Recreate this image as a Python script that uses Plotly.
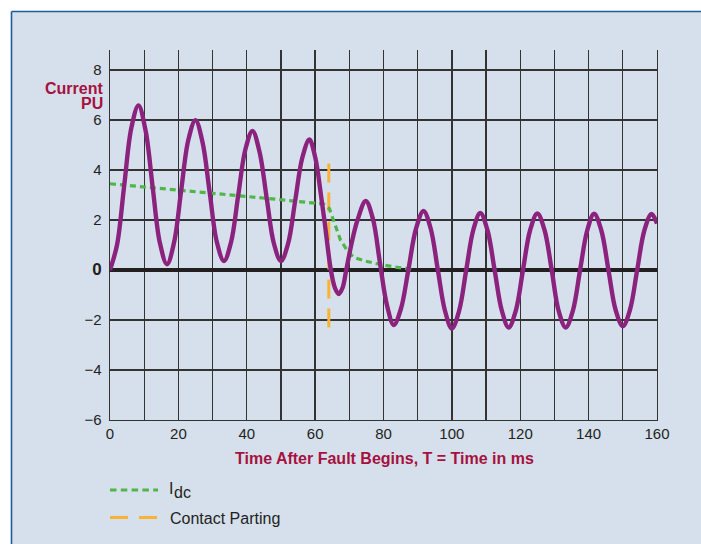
import plotly.graph_objects as go

# ---------------- data ----------------
time_ms = [0.0, 2.08, 4.17, 6.25, 8.33, 10.42, 12.5, 14.58, 16.67, 18.75,
           20.83, 22.92, 25.0, 27.08, 29.17, 31.25, 33.33, 35.42, 37.5, 39.58,
           41.67, 43.75, 45.83, 47.92, 50.0, 52.08, 54.17, 56.25, 58.33, 60.0,
           60.7, 61.7, 62.7, 64.6, 65.8, 66.9, 68.0, 69.1, 70.8, 72.4,
           74.8, 76.9, 79.0, 81.0, 83.0, 85.1, 87.3, 89.5, 91.7, 93.8,
           95.9, 98.0, 100.0, 102.1, 104.2, 106.3, 108.3, 110.4, 112.5, 114.6,
           116.6, 118.7, 120.8, 122.9, 125.0, 127.1, 129.2, 131.2, 133.3, 135.4,
           137.5, 139.6, 141.6, 143.7, 145.8, 147.9, 150.0, 152.1, 154.2, 156.3,
           158.4, 160.0]
current_pu = [0.0, 1.02, 3.40, 5.69, 6.58, 5.57, 3.29, 1.09, 0.23, 1.11,
              3.19, 5.21, 5.99, 5.10, 3.09, 1.12, 0.36, 1.12, 2.98, 4.81,
              5.56, 4.72, 2.88, 1.07, 0.36, 1.05, 2.77, 4.49, 5.22, 4.52,
              4.0, 3.0, 2.0, 0.0, -0.72, -0.96, -0.72, 0.0, 1.15, 2.0,
              2.76, 2.05, 0.25, -1.4, -2.2, -1.55, 0.03, 1.65, 2.36, 1.66,
              0.0, -1.64, -2.34, -1.64, 0.0, 1.62, 2.28, 1.6, 0.0, -1.62,
              -2.3, -1.62, 0.0, 1.6, 2.26, 1.6, 0.0, -1.62, -2.3, -1.62,
              0.0, 1.59, 2.25, 1.59, 0.0, -1.6, -2.25, -1.59, 0.0, 1.58,
              2.24, 1.86]

idc_time = [0, 10, 20, 30, 40, 50, 55, 60, 62.5, 64.2, 65.9, 67.4, 69.3,
            71.3, 74.6, 78.4, 83.3, 88.7]
idc_pu = [3.45, 3.33, 3.2, 3.07, 2.94, 2.81, 2.74, 2.68, 2.64, 2.45, 1.75,
          1.2, 0.8, 0.5, 0.36, 0.24, 0.12, 0.02]

parting_time = [64.0, 64.0]
parting_pu = [4.26, -2.33]

x_ticks = [0, 20, 40, 60, 80, 100, 120, 140, 160]
y_ticks = [-6, -4, -2, 0, 2, 4, 6, 8]
y_tick_text = ["\u22126", "\u22124", "\u22122",
               "<b><span style='font-size:17px'>0</span></b>",
               "2", "4", "6", "8"]

x_title = "Time After Fault Begins, T = Time in ms"
y_title_lines = ["Current", "PU"]
idc_label = ["I", "dc"]
parting_label = "Contact Parting"

# ---------------- styles ----------------
W, H = 701, 544
ML, MR, MT, MB = 110, 44, 50, 124
PW, PH = W - ML - MR, H - MT - MB

PANEL = "#d6e0ec"
BORDER = "#1f5d99"
GRID = "#333333"
TEXT = "#231f20"
CRIMSON = "#a6113f"
PURPLE = "#8b237e"
GREEN = "#4fb648"
ORANGE = "#f9b233"
FONT = "Liberation Sans, Arial, sans-serif"


def px(xp):
    return (xp - ML) / PW


def py(yp):
    return (H - MB - yp) / PH


fig = go.Figure()

fig.add_trace(go.Scatter(x=parting_time, y=parting_pu, mode="lines",
                         line=dict(color=ORANGE, width=3, dash="19px,10px"),
                         showlegend=False, hoverinfo="skip"))
fig.add_trace(go.Scatter(x=idc_time, y=idc_pu, mode="lines",
                         line=dict(color=GREEN, width=3.2, dash="6px,4px"),
                         showlegend=False, hoverinfo="skip"))
fig.add_trace(go.Scatter(x=time_ms, y=current_pu, mode="lines",
                         line=dict(color=PURPLE, width=4.4, shape="spline",
                                   smoothing=1.0),
                         showlegend=False, hoverinfo="skip"))

shapes = [
    # panel background
    dict(type="rect", xref="paper", yref="paper", layer="below",
         x0=px(11.5), x1=px(720), y0=py(560), y1=py(11.5),
         fillcolor=PANEL, line=dict(width=0)),
    # panel borders (top / left)
    dict(type="line", xref="paper", yref="paper", layer="below",
         x0=px(11.5), x1=px(720), y0=py(11.5), y1=py(11.5),
         line=dict(color=BORDER, width=1.6)),
    dict(type="line", xref="paper", yref="paper", layer="below",
         x0=px(11.5), x1=px(11.5), y0=py(560), y1=py(11.5),
         line=dict(color=BORDER, width=1.6)),
    # legend samples
    dict(type="line", xref="paper", yref="paper",
         x0=px(110), x1=px(158), y0=py(490), y1=py(490),
         line=dict(color=GREEN, width=3, dash="6.5px,4.3px")),
    dict(type="line", xref="paper", yref="paper",
         x0=px(110), x1=px(158), y0=py(517.5), y1=py(517.5),
         line=dict(color=ORANGE, width=3, dash="18px,11px")),
]

annotations = [
    dict(text="<b>%s</b>" % x_title, xref="paper", yref="paper",
         x=px(384.5), y=py(458), xanchor="center", yanchor="middle",
         showarrow=False, font=dict(family=FONT, size=16, color=CRIMSON)),
    dict(text="<b>%s</b>" % y_title_lines[0], xref="paper", yref="paper",
         x=px(104.5), y=py(88.5), xanchor="right", yanchor="middle",
         showarrow=False, font=dict(family=FONT, size=16, color=CRIMSON)),
    dict(text="<b>%s</b>" % y_title_lines[1], xref="paper", yref="paper",
         x=px(104.5), y=py(104), xanchor="right", yanchor="middle",
         showarrow=False, font=dict(family=FONT, size=16, color=CRIMSON)),
    dict(text=idc_label[0], xref="paper", yref="paper",
         x=px(167), y=py(488.5), xanchor="left", yanchor="middle",
         showarrow=False, font=dict(family=FONT, size=16, color=TEXT)),
    dict(text=idc_label[1], xref="paper", yref="paper",
         x=px(171.5), y=py(492), xanchor="left", yanchor="middle",
         showarrow=False, font=dict(family=FONT, size=16, color=TEXT)),
    dict(text=parting_label, xref="paper", yref="paper",
         x=px(168), y=py(518), xanchor="left", yanchor="middle",
         showarrow=False, font=dict(family=FONT, size=16, color=TEXT)),
]

fig.update_layout(
    width=W, height=H,
    margin=dict(l=ML, r=MR, t=MT, b=MB, pad=0),
    paper_bgcolor="white",
    plot_bgcolor=PANEL,
    font=dict(family=FONT, size=15, color=TEXT),
    shapes=shapes,
    annotations=annotations,
    showlegend=False,
    xaxis=dict(range=[0, 160], tickvals=x_ticks, ticks="",
               showgrid=True, gridcolor=GRID, gridwidth=1.3,
               minor=dict(dtick=10, showgrid=True, gridcolor=GRID,
                          gridwidth=1.3),
               zeroline=False, showline=True, linecolor=GRID, linewidth=1.3,
               tickfont=dict(family=FONT, size=15, color=TEXT),
               ticklabelstandoff=0, fixedrange=True),
    yaxis=dict(range=[-6, 8.8], tickvals=y_ticks, ticktext=y_tick_text,
               ticks="", showgrid=True, gridcolor=GRID, gridwidth=1.3,
               zeroline=True, zerolinecolor=TEXT, zerolinewidth=4.5,
               showline=True, mirror=True, linecolor=GRID, linewidth=1.3,
               tickfont=dict(family=FONT, size=15, color=TEXT),
               ticklabelstandoff=4, fixedrange=True),
)

fig.write_html(
    "out.html",
    config={"displayModeBar": False, "staticPlot": True},
    post_script="document.body.style.margin='0';"
                "document.body.style.overflow='hidden';",
)
